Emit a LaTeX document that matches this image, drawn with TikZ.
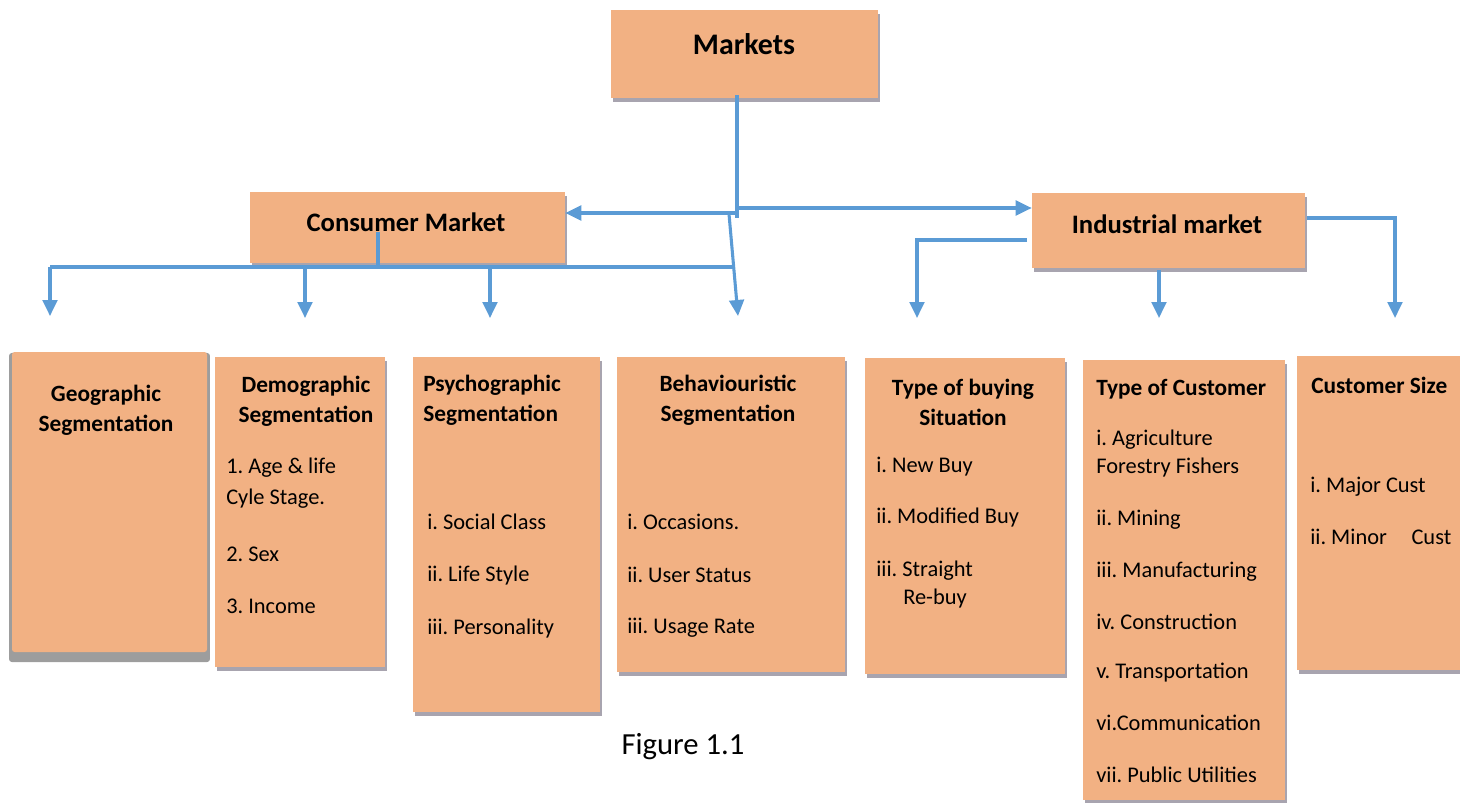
\documentclass[tikz,border=0pt]{standalone}
\usepackage{fontspec}
\setmainfont{Carlito}
\frenchspacing
\usetikzlibrary{arrows.meta,shadows,fit}
\definecolor{peach}{HTML}{F2B183}
\definecolor{peachedge}{HTML}{E9A574}
\definecolor{lineblue}{HTML}{5B9BD5}
\definecolor{shadowgray}{HTML}{9E9AA6}
\tikzset{
  box/.style={fill=peach, draw=none, inner sep=0pt,
    drop shadow={shadow xshift=1.2pt, shadow yshift=-3pt, fill=shadowgray, opacity=0.9}},
  bigshadowbox/.style={fill=peach, draw=none, inner sep=0pt, rounded corners=2pt,
    drop shadow={shadow xshift=0pt, shadow yshift=-4pt, shadow scale=1.03, fill=black!55, opacity=0.7}},
  conn/.style={draw=lineblue, line width=2.3pt},
  arr/.style={conn, -{Triangle[length=12pt,width=11pt]}},
  txt/.style={anchor=west, inner sep=0pt, font=\fontsize{16.8}{20}\selectfont},
  hd/.style={inner sep=0pt, align=center, font=\bfseries\fontsize{17.5}{22.5}\selectfont},
  hdl/.style={inner sep=0pt, align=left, anchor=west, font=\bfseries\fontsize{17.5}{22.5}\selectfont},
}
\begin{document}
\begin{tikzpicture}[x=0.75pt,y=-0.75pt]
\useasboundingbox (0,0) rectangle (1460,803);
% top boxes
\node[box, fit={(611,10) (878,98)}] (mk) {};
\node[font=\bfseries\fontsize{22.4}{26}\selectfont, inner sep=0pt] (mkt) at (744,44) {Markets};
\node[box, fit={(250,192) (565,263)}] (cm) {};
\node[font=\bfseries\fontsize{20}{24}\selectfont, inner sep=0pt] (cmt) at (406,222) {Consumer Market};
\node[box, fit={(1032,193) (1305,268)}] (ind) {};
\node[font=\bfseries\fontsize{20}{24}\selectfont, inner sep=0pt] (indt) at (1167,224) {Industrial market};

% bottom boxes
\node[bigshadowbox, fit={(12,352) (207,652)}] (geo) {};
\node[hd] (geoh) at (106,410) {Geographic\\Segmentation};

\node[box, fit={(215,357) (385,667)}] (dem) {};
\node[hd] (demh) at (306,401) {Demographic\\Segmentation};
\node[txt] (d1) at (226,468) {1. Age \& life};
\node[txt] (d2) at (226,499) {Cyle Stage.};
\node[txt] (d3) at (226,554) {2. Sex};
\node[txt] (d4) at (226,606) {3. Income};

\node[box, fit={(413,357) (600,712)}] (psy) {};
\node[hdl] (psyh) at (423,400) {Psychographic\\Segmentation};
\node[txt] (p1) at (427,522) {i. Social Class};
\node[txt] (p2) at (427,576) {ii. Life Style};
\node[txt] (p3) at (427,629) {iii. Personality};

\node[box, fit={(617,357) (845,672)}] (beh) {};
\node[hd] (behh) at (728,400) {Behaviouristic\\Segmentation};
\node[txt] (b1) at (627,522) {i. Occasions.};
\node[txt] (b2) at (627,575) {ii. User Status};
\node[txt] (b3) at (627,628) {iii. Usage Rate};

\node[box, fit={(865,358) (1065,674)}] (buy) {};
\node[hd] (buyh) at (963,402) {Type of buying\\Situation};
\node[txt] (u1) at (876,467) {i. New Buy};
\node[txt] (u2) at (876,518) {ii. Modified Buy};
\node[txt] (u3) at (876,571) {iii. Straight};
\node[txt] (u4) at (903,599) {Re-buy};

\node[box, fit={(1083,360) (1285,800)}] (cus) {};
\node[hdl] (cush) at (1096,389) {Type of Customer};
\node[txt] (c1) at (1096,440) {i. Agriculture};
\node[txt] (c2) at (1096,468) {Forestry Fishers};
\node[txt] (c3) at (1096,520) {ii. Mining};
\node[txt] (c4) at (1096,572) {iii. Manufacturing};
\node[txt] (c5) at (1096,622) {iv. Construction};
\node[txt] (c6) at (1096,673) {v. Transportation};
\node[txt] (c7) at (1096,723) {vi.Communication};
\node[txt] (c8) at (1096,775) {vii. Public Utilities};

\node[box, fit={(1297,356) (1462,670)}] (siz) {};
\node[hdl] (sizh) at (1311,385) {Customer Size};
\node[txt] (s1) at (1310,487) {i. Major Cust};
\node[txt] (s2) at (1310,537) {ii. Minor\hspace{1.1em}Cust};

\node[inner sep=0pt, font=\fontsize{23}{27}\selectfont] (fig) at (683,747) {Figure 1.1};

% connectors
\coordinate (mkb) at (737,95);
\coordinate (jend) at (737,218);
\coordinate (ja) at (737,208);
\coordinate (jc) at (737,213);
\draw[conn] (mkb) -- (jend);
\draw[arr] (ja) -- (ja -| ind.west);
\draw[arr] (jc) -- (jc -| cm.east);

\coordinate (cmb) at (378,232);
\coordinate (busc) at (378,267);
\coordinate (busL) at (50,267);
\coordinate (busR) at (735,267);
\draw[conn] (cmb) -- (busc);
\draw[conn] (busL) -- (busR);
\coordinate (a1) at (50,316);
\coordinate (b2) at (305,267);
\coordinate (a2) at (305,318);
\coordinate (b3) at (490,267);
\coordinate (a3) at (490,318);
\coordinate (s4) at (729,214);
\coordinate (a4) at (738,316);
\draw[arr] (busL) -- (a1);
\draw[arr] (b2) -- (a2);
\draw[arr] (b3) -- (a3);
\draw[arr] (s4) -- (a4);

\coordinate (ir) at (1307,218);
\coordinate (irc) at (1395,218);
\coordinate (ira) at (1395,318);
\draw[arr] (ir) -- (irc) -- (ira);
\coordinate (il) at (1027,240);
\coordinate (ilc) at (917,240);
\coordinate (ila) at (917,318);
\draw[arr] (il) -- (ilc) -- (ila);
\coordinate (ib) at (1159,270);
\coordinate (iba) at (1159,318);
\draw[arr] (ib) -- (iba);
\end{tikzpicture}
\end{document}
